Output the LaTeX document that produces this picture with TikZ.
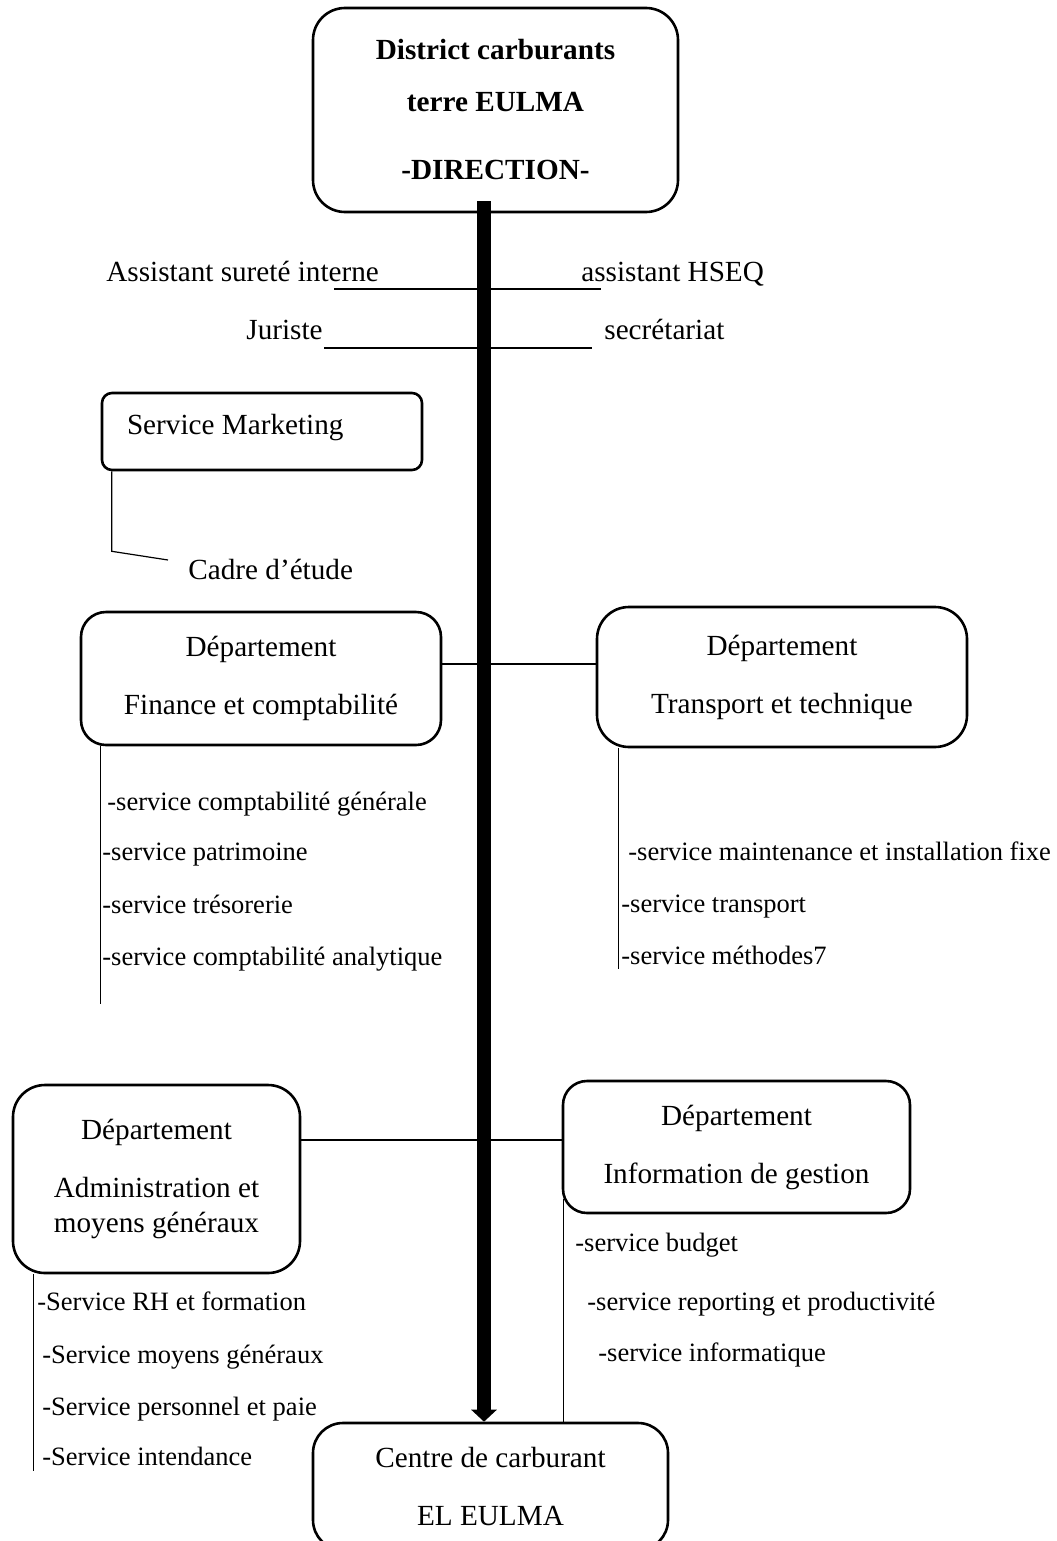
\documentclass[tikz,border=0pt]{standalone}
\usepackage{fontspec}
\setmainfont{Liberation Serif}
\usetikzlibrary{calc,arrows.meta}

\begin{document}
\begin{tikzpicture}[x=0.5pt,y=-0.5pt,
  box/.style={draw,line width=1.3pt,inner sep=0pt,align=center,
    font=\fontsize{14.6pt}{29pt}\selectfont},
  lbl/.style={inner sep=0pt,anchor=base west,font=\fontsize{14.6pt}{17.5pt}\selectfont},
  item/.style={inner sep=0pt,anchor=base west,font=\fontsize{13.25pt}{16pt}\selectfont},
  link/.style={line width=0.6pt},
  trunk/.style={line width=7pt,-{Triangle[width=12.5pt,length=6pt]}}]
\useasboundingbox (0,0) rectangle (1056,1541);
\clip (0,0) rectangle (1056,1541);
\fill[white] (0,0) rectangle (1056,1541);

% Direction
\node[box,minimum width=182.5pt,minimum height=102pt,rounded corners=16pt,
  font=\fontsize{14.6pt}{26pt}\selectfont\bfseries] (dir) at (495.5,110)
  {District carburants\\terre EULMA\\[8pt]-DIRECTION-};

% Staff attached to the direction
\node[lbl] (asi) at (106,281) {Assistant sureté interne};
\node[lbl] (hseq) at (581,281) {assistant HSEQ};
\node[lbl] (jur) at (246,339) {Juriste};
\node[lbl] (sec) at (604,339) {secrétariat};
\draw[link] ($(asi.base east)+(-45,8)$) -- ($(hseq.base west)+(20,8)$);
\draw[link] ($(jur.base east)+(1,9)$) -- ($(sec.base west)+(-12,9)$);

% Marketing
\node[box,minimum width=160pt,minimum height=38.5pt,rounded corners=5pt,
  text height=10pt,text depth=7.5pt] (mkt) at (262,431.5)
  {\makebox[135pt][l]{Service Marketing}};
\node[lbl] (cadre) at (188,579) {Cadre d’étude};
\draw[link] ($(mkt.south west)+(11,0)$) -- ++(0,80) -- ($(cadre.base west)+(-20,-19)$);

% Finance and transport departments
\node[box,minimum width=180pt,minimum height=66.5pt,rounded corners=12.5pt] (fin) at (261,678.5)
  {Département\\Finance et comptabilité};
\node[box,minimum width=185pt,minimum height=70pt,rounded corners=16pt] (tra) at (782,677)
  {Département\\Transport et technique};
\draw[link] ($(fin.east)+(0,-14.5)$) coordinate (ft) -- (ft -| tra.west);

\draw[link] ($(fin.south west)+(21,0)$) -- ++(0,258);
\node[item] (f1) at (107,810) {-service comptabilité générale};
\node[item] (f2) at (102,860) {-service patrimoine};
\node[item] (f3) at (102,913) {-service trésorerie};
\node[item] (f4) at (102,965) {-service comptabilité analytique};

\draw[link] ($(tra.south west)+(23,0)$) -- ++(0,221);
\node[item] (t1) at (628,860) {-service maintenance et installation fixe};
\node[item] (t2) at (621,912) {-service transport};
\node[item] (t3) at (621,964) {-service méthodes7};

% Administration and information departments
\node[box,minimum width=143.5pt,minimum height=94pt,rounded corners=16pt,
  font=\fontsize{14.6pt}{17.5pt}\selectfont] (adm) at (156.5,1179)
  {Département\\[11.5pt]Administration et\\moyens généraux};
\node[box,minimum width=173.5pt,minimum height=66pt,rounded corners=12pt] (inf) at (736.5,1147)
  {Département\\Information de gestion};
\draw[link] ($(inf.west)+(0,-7)$) coordinate (ai) -- (ai -| adm.east);

\draw[link] ($(adm.south west)+(22,0)$) -- ++(0,197);
\node[item] (a1) at (37,1310) {-Service RH et formation};
\node[item] (a2) at (42,1363) {-Service moyens généraux};
\node[item] (a3) at (42,1415) {-Service personnel et paie};
\node[item] (a4) at (42,1465) {-Service intendance};

\node[item] (i1) at (575,1251) {-service budget};
\node[item] (i2) at (587,1310) {-service reporting et productivité};
\node[item] (i3) at (598,1361) {-service informatique};

% Fuel centre
\node[box,minimum width=177.5pt,minimum height=63.5pt,rounded corners=15pt] (ctr) at (490.5,1486.5)
  {Centre de carburant\\EL EULMA};
\draw[link] ($(inf.south west)+(2,-15)$) coordinate (iv) -- (iv |- ctr.north);

% Main hierarchy line
\coordinate (trunkTop) at ($(dir.south)+(-11.5,-12)$);
\draw[trunk] (trunkTop) -- (trunkTop |- ctr.north);
\end{tikzpicture}
\end{document}
